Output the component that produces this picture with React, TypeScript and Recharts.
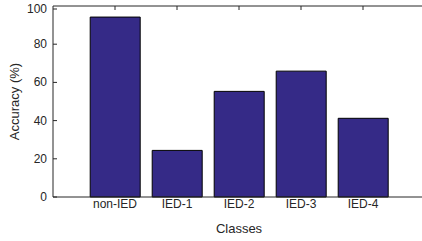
import React from 'react'
import { BarChart, Bar, XAxis, YAxis } from 'recharts'

const classes = ['non-IED', 'IED-1', 'IED-2', 'IED-3', 'IED-4']
const accuracy = [94.2, 24.4, 55.3, 65.9, 41.2]
const yTicks = [0, 20, 40, 60, 80, 100]

const data = classes.map((name, i) => ({ name, accuracy: accuracy[i] }))

const ink = '#262626'
const font = 'Liberation Sans, Arial, Helvetica, sans-serif'
const axisLeft = 53
const plotTop = 6

const LeftTick = (props: any) => {
  const { y, payload } = props
  return (
    <g>
      <line x1={axisLeft} x2={axisLeft + 4} y1={y} y2={y} stroke={ink} />
      <text x={axisLeft - 6} y={y} dy={4} textAnchor="end" fontSize={12} fill={ink} fontFamily={font}>
        {payload.value}
      </text>
    </g>
  )
}

const BottomTick = (props: any) => {
  const { x, y, payload } = props
  return (
    <text x={x} y={y} dy={9} textAnchor="middle" fontSize={12} fill={ink} fontFamily={font}>
      {payload.value}
    </text>
  )
}

const TopTick = (props: any) => {
  const { x } = props
  return <line x1={x} x2={x} y1={plotTop} y2={plotTop + 4} stroke={ink} />
}

const RightTick = (props: any) => {
  const { y } = props
  return <line x1={421} x2={425} y1={y} y2={y} stroke={ink} />
}

const App = () => {
  return (
    <div style={{ position: 'absolute', left: 0, top: 0, width: 422, height: 241, overflow: 'hidden', background: '#fff' }}>
      <BarChart
        width={430}
        height={241}
        data={data}
        margin={{ top: plotTop - 20, right: -15, bottom: 0, left: 0 }}
        barCategoryGap="10%"
      >
        <XAxis
          dataKey="name"
          height={44}
          padding={{ left: 31, right: 31 }}
          stroke={ink}
          tickLine={false}
          tickSize={0}
          tick={<BottomTick />}
          interval={0}
          label={{ value: 'Classes', position: 'insideBottom', offset: 8, fill: ink, fontSize: 13, fontFamily: font }}
        />
        <XAxis
          dataKey="name"
          xAxisId="top"
          orientation="top"
          height={20}
          padding={{ left: 31, right: 31 }}
          stroke={ink}
          tickLine={false}
          tick={<TopTick />}
          interval={0}
        />
        <YAxis
          width={53}
          domain={[0, 100]}
          ticks={yTicks}
          stroke={ink}
          tickLine={false}
          tickSize={0}
          tick={<LeftTick />}
          label={(p: any) => {
            const vb = p.viewBox
            const cx = 16
            const cy = vb.y + vb.height / 2
            return (
              <text x={cx} y={cy} transform={`rotate(-90 ${cx} ${cy})`} textAnchor="middle" dominantBaseline="middle" fontSize={13} fill={ink} fontFamily={font}>
                Accuracy (%)
              </text>
            )
          }}
        />
        <YAxis
          yAxisId="right"
          orientation="right"
          width={20}
          domain={[0, 100]}
          ticks={yTicks}
          stroke={ink}
          tickLine={false}
          tick={<RightTick />}
        />
        <Bar
          dataKey="accuracy"
          fill="#352a87"
          stroke="#000"
          strokeWidth={1}
          isAnimationActive={false}
        />
      </BarChart>
    </div>
  )
}

export default App
